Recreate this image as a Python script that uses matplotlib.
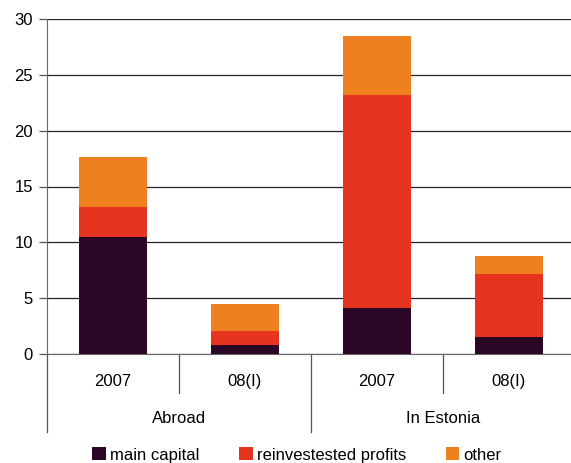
import numpy as np
import matplotlib.pyplot as plt
from matplotlib.patches import Patch

plt.rcParams['font.family'] = ['Liberation Sans', 'DejaVu Sans']
plt.rcParams['font.size'] = 12

# bars: Abroad 2007, Abroad 08(I), In Estonia 2007, In Estonia 08(I)
periods = ['2007', '08(I)', '2007', '08(I)']
groups = ['Abroad', 'In Estonia']
main_capital = [10.5, 0.8, 4.1, 1.5]
reinvested = [2.7, 1.25, 19.1, 5.65]
other = [4.4, 2.45, 5.3, 1.6]

series = ['main capital', 'reinvestested profits', 'other']
colors = ['#2b0626', '#e63420', '#ee8020']

fig = plt.figure(figsize=(5.71, 4.63), dpi=100)
W, H = 571, 463
ax = fig.add_axes([47 / W, 1 - 354 / H, 528 / W, 335 / H])

x = np.arange(len(periods))
bottom = np.zeros(len(periods))
for vals, c in zip([main_capital, reinvested, other], colors):
    ax.bar(x, vals, width=0.51, bottom=bottom, color=c, zorder=3)
    bottom += np.array(vals)

ax.set_xlim(-0.5, 3.5)
ax.set_ylim(0, 30)
ax.set_yticks(range(0, 31, 5))
ax.yaxis.grid(True, color='#222222', lw=0.9, zorder=0)
ax.tick_params(axis='y', length=6, width=0.9, color='#555555', pad=4)
ax.tick_params(axis='x', length=0, labelbottom=False)
for s in ['top', 'right']:
    ax.spines[s].set_visible(False)
ax.spines['left'].set_color('#666666')
ax.spines['bottom'].set_color('#666666')
ax.spines['left'].set_bounds(0, 30)
ax.axhline(30, color='#777777', lw=1.2, zorder=1)

# category axis drawn below the plot
trans = ax.get_xaxis_transform()
ax.plot([-0.5, -0.5], [0, -0.233], transform=trans, color='#555555', lw=0.9, clip_on=False)
ax.plot([1.5, 1.5], [0, -0.233], transform=trans, color='#555555', lw=0.9, clip_on=False)
for xs in [0.5, 2.5]:
    ax.plot([xs, xs], [0, -0.116], transform=trans, color='#555555', lw=0.9, clip_on=False)
for xi, lab in zip(x, periods):
    ax.text(xi, -0.081, lab, transform=trans, ha='center', va='center')
for gi, g in enumerate(groups):
    ax.text(2 * gi + 0.5, -0.194, g, transform=trans, ha='center', va='center')

handles = [Patch(facecolor=c, edgecolor='none') for c in colors]
fig.legend(handles, series, loc='center', bbox_to_anchor=(297 / W, 1 - 455 / H),
           ncol=3, frameon=False, handlelength=0.8, handleheight=0.8,
           handletextpad=0.25, columnspacing=2.4, borderaxespad=0)

fig.savefig('out.png', dpi=100)
